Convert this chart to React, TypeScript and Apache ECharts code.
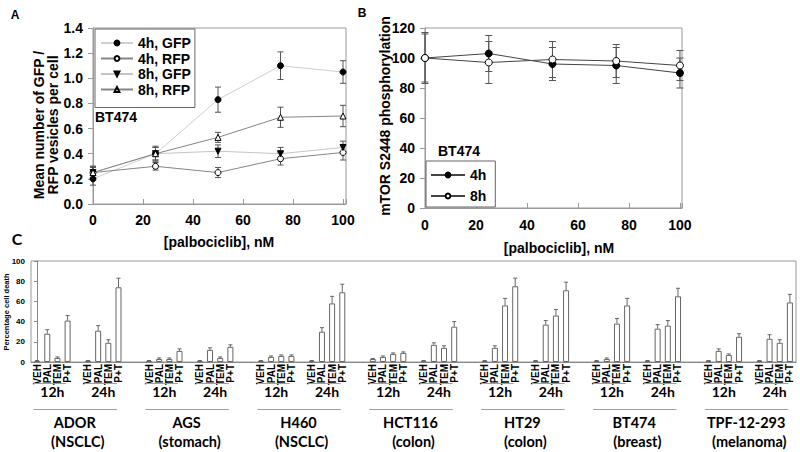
import React, { useEffect, useRef } from "react";
import * as echarts from "echarts";

// ---------- Panel A ----------
const doseA = [0, 25, 50, 75, 100];
const gfp4h = [0.2, 0.4, 0.83, 1.1, 1.05];
const gfp4hErr = [0.05, 0.05, 0.1, 0.11, 0.09];
const rfp4h = [0.25, 0.3, 0.25, 0.36, 0.41];
const rfp4hErr = [0.05, 0.03, 0.04, 0.05, 0.06];
const gfp8h = [0.25, 0.4, 0.42, 0.4, 0.45];
const gfp8hErr = [0.05, 0.06, 0.05, 0.05, 0.05];
const rfp8h = [0.25, 0.4, 0.53, 0.69, 0.7];
const rfp8hErr = [0.04, 0.05, 0.04, 0.08, 0.085];

// ---------- Panel B ----------
const doseB = [0, 25, 50, 75, 100];
const mtor4h = [100, 103, 96, 95, 90];
const mtor4hErr = [16, 12, 11, 12, 10];
const mtor8h = [100, 97, 99, 98, 95];
const mtor8hErr = [17, 14, 12, 11, 10];

// ---------- Panel C ----------
const cellLines = ["ADOR", "AGS", "H460", "HCT116", "HT29", "BT474", "TPF-12-293"];
const tissues = ["(NSCLC)", "(stomach)", "(NSCLC)", "(colon)", "(colon)", "(breast)", "(melanoma)"];
const treatments = ["VEH", "PAL", "TEM", "P+T"];
const timepoints = ["12h", "24h"];
// order: 12h VEH, PAL, TEM, P+T, 24h VEH, PAL, TEM, P+T
const deathADOR = [1, 28, 4, 41, 1, 31, 19, 74];
const errADOR = [0.5, 4, 1, 5, 0.5, 5, 3, 9];
const deathAGS = [1, 3, 3, 11, 1, 12, 4, 15];
const errAGS = [0.5, 1, 1, 2, 0.5, 2, 1, 2];
const deathH460 = [1, 5, 6, 6, 1, 30, 58, 69];
const errH460 = [0.5, 1, 1, 1, 0.5, 4, 7, 8];
const deathHCT116 = [3, 5, 8, 9, 1, 17, 14, 35];
const errHCT116 = [0.5, 1, 1, 1, 0.5, 2, 2, 5];
const deathHT29 = [1, 14, 56, 75, 1, 37, 46, 71];
const errHT29 = [0.5, 2, 7, 8, 0.5, 4, 6, 8];
const deathBT474 = [1, 3, 38, 56, 1, 33, 36, 65];
const errBT474 = [0.5, 1, 5, 7, 0.5, 4, 5, 8];
const deathTPF = [1, 11, 7, 25, 1, 23, 19, 59];
const errTPF = [0.5, 2, 1, 3, 0.5, 4, 3, 8];

const deathAll = [deathADOR, deathAGS, deathH460, deathHCT116, deathHT29, deathBT474, deathTPF];
const errAll = [errADOR, errAGS, errH460, errHCT116, errHT29, errBT474, errTPF];

const AR = "'Liberation Sans', Arial, Helvetica, sans-serif";
const CAL = "Lato, 'Open Sans', sans-serif";

const slotPerLine = 11;
const slotOf = (k: number) => (k < 4 ? k : k + 1);

function errRender(capW: number, both: boolean, color: string) {
  return (_params: any, api: any) => {
    const x = api.value(0);
    const y = api.value(1);
    const e = api.value(2);
    const hi = api.coord([x, y + e]);
    const lo = api.coord([x, both ? y - e : y]);
    const style = { stroke: color, lineWidth: 1, fill: "none" };
    const children: any[] = [
      { type: "line", shape: { x1: hi[0], y1: hi[1], x2: lo[0], y2: lo[1] }, style },
      { type: "line", shape: { x1: hi[0] - capW / 2, y1: hi[1], x2: hi[0] + capW / 2, y2: hi[1] }, style },
    ];
    if (both) {
      children.push({ type: "line", shape: { x1: lo[0] - capW / 2, y1: lo[1], x2: lo[0] + capW / 2, y2: lo[1] }, style });
    }
    return { type: "group", children };
  };
}

function txt(text: string, x: number, y: number, font: string, align = "center", rotation = 0, extra: any = {}) {
  return {
    type: "text",
    x,
    y,
    rotation,
    silent: true,
    style: {
      text,
      font,
      fill: "#000",
      align,
      verticalAlign: "middle",
      textAlign: align,
      textVerticalAlign: "middle",
      ...extra,
    },
  };
}

function buildOption() {
  const errA: number[][] = [];
  [
    [gfp4h, gfp4hErr],
    [rfp4h, rfp4hErr],
    [gfp8h, gfp8hErr],
    [rfp8h, rfp8hErr],
  ].forEach(([v, e]) => doseA.forEach((d, i) => errA.push([d, v[i], e[i]])));

  const errB: number[][] = [];
  [
    [mtor4h, mtor4hErr],
    [mtor8h, mtor8hErr],
  ].forEach(([v, e]) => doseB.forEach((d, i) => errB.push([d, v[i], e[i]])));

  const bars: number[][] = [];
  const errC: number[][] = [];
  const treatLabels: number[][] = [];
  const groups: number[][] = [];
  deathAll.forEach((vals, li) => {
    groups.push([li * slotPerLine, li]);
    vals.forEach((v, k) => {
      const x = li * slotPerLine + slotOf(k);
      bars.push([x, v]);
      errC.push([x, v, errAll[li][k]]);
      treatLabels.push([x, k % 4]);
    });
  });

  const axisGray = "#999";
  const tickLabel = { fontFamily: AR, fontWeight: "bold", fontSize: 14, color: "#000" };

  const lineBase = (name: string, data: number[], idx: number, symbol: string, filled: boolean, lineColor: string, rotate = 0, size = 6) => ({
    name,
    type: "line",
    xAxisIndex: idx,
    yAxisIndex: idx,
    data: (idx === 0 ? doseA : doseB).map((d, i) => [d, data[i]]),
    symbol,
    symbolSize: size,
    symbolRotate: rotate,
    showSymbol: true,
    lineStyle: { color: lineColor, width: 1 },
    itemStyle: filled
      ? { color: "#000", borderColor: "#000", borderWidth: 1 }
      : { color: "#fff", borderColor: "#000", borderWidth: 1 },
    z: 5,
    silent: true,
  });

  const legendText = { fontFamily: AR, fontWeight: "bold", fontSize: 14, color: "#000", lineHeight: 13 };

  return {
    animation: false,
    backgroundColor: "#fff",
    grid: [
      { left: 93, top: 28, width: 253, height: 176, show: true, borderColor: axisGray, borderWidth: 1 },
      { left: 425, top: 28, width: 257, height: 180, show: true, borderColor: axisGray, borderWidth: 1 },
      { left: 31, top: 261, width: 765, height: 101, show: true, borderColor: axisGray, borderWidth: 1 },
    ],
    xAxis: [
      {
        type: "value",
        gridIndex: 0,
        min: 0,
        max: 101.2,
        interval: 20,
        axisLine: { show: true, lineStyle: { color: axisGray } },
        axisTick: { show: true, inside: true, length: 5, lineStyle: { color: axisGray } },
        axisLabel: { ...tickLabel, margin: 9, formatter: (v: number) => (v % 20 === 0 ? String(v) : "") },
        splitLine: { show: false },
      },
      {
        type: "value",
        gridIndex: 1,
        min: 0,
        max: 100.8,
        interval: 20,
        axisLine: { show: true, lineStyle: { color: axisGray } },
        axisTick: { show: true, inside: true, length: 5, lineStyle: { color: axisGray } },
        axisLabel: { ...tickLabel, margin: 10, formatter: (v: number) => (v % 20 === 0 ? String(v) : "") },
        splitLine: { show: false },
      },
      {
        type: "value",
        gridIndex: 2,
        min: -0.6,
        max: 74.6,
        axisLine: { show: true, lineStyle: { color: "#888" } },
        axisTick: { show: false },
        axisLabel: { show: false },
        splitLine: { show: false },
      },
    ],
    yAxis: [
      {
        type: "value",
        gridIndex: 0,
        min: 0,
        max: 1.4,
        interval: 0.2,
        axisLine: { show: true, lineStyle: { color: axisGray } },
        axisTick: { show: true, length: 5, lineStyle: { color: axisGray } },
        axisLabel: { ...tickLabel, margin: 10, formatter: (v: number) => v.toFixed(1) },
        splitLine: { show: false },
      },
      {
        type: "value",
        gridIndex: 1,
        min: 0,
        max: 120,
        interval: 20,
        axisLine: { show: true, lineStyle: { color: axisGray } },
        axisTick: { show: true, length: 5, lineStyle: { color: axisGray } },
        axisLabel: { ...tickLabel, margin: 10 },
        splitLine: { show: false },
      },
      {
        type: "value",
        gridIndex: 2,
        min: 0,
        max: 100,
        interval: 20,
        axisLine: { show: true, lineStyle: { color: "#888" } },
        axisTick: { show: true, length: 3, lineStyle: { color: "#888" } },
        axisLabel: { fontFamily: AR, fontWeight: "bold", fontSize: 8, color: "#000", margin: 6 },
        splitLine: { show: false },
      },
    ],
    legend: [
      {
        data: ["4h, GFP", "4h, RFP", "8h, GFP", "8h, RFP"],
        orient: "vertical",
        left: 95,
        top: 29,
        padding: [7, 4, 11, 5],
        itemGap: 1.5,
        itemWidth: 32,
        itemHeight: 6,
        borderColor: "#666",
        borderWidth: 1,
        backgroundColor: "#fff",
        selectedMode: false,
        textStyle: legendText,
      },
      {
        data: ["4h", "8h"],
        orient: "vertical",
        left: 426,
        top: 161,
        padding: [7, 9, 4, 4],
        itemGap: 7,
        itemWidth: 34,
        itemHeight: 6,
        borderColor: "#666",
        borderWidth: 1,
        backgroundColor: "#fff",
        selectedMode: false,
        textStyle: legendText,
      },
    ],
    series: [
      {
        type: "custom",
        name: "errA",
        xAxisIndex: 0,
        yAxisIndex: 0,
        data: errA,
        encode: { x: 0, y: 1 },
        renderItem: errRender(6, true, "#555"),
        z: 3,
        silent: true,
      },
      lineBase("4h, GFP", gfp4h, 0, "circle", true, "#cfcfcf"),
      lineBase("4h, RFP", rfp4h, 0, "circle", false, "#858585"),
      lineBase("8h, GFP", gfp8h, 0, "triangle", true, "#c4c4c4", 180),
      lineBase("8h, RFP", rfp8h, 0, "triangle", false, "#858585"),
      {
        type: "custom",
        name: "errB",
        xAxisIndex: 1,
        yAxisIndex: 1,
        data: errB,
        encode: { x: 0, y: 1 },
        renderItem: errRender(7, true, "#555"),
        z: 3,
        silent: true,
      },
      lineBase("4h", mtor4h, 1, "circle", true, "#444", 0, 7),
      lineBase("8h", mtor8h, 1, "circle", false, "#444", 0, 7),
      {
        type: "bar",
        name: "death",
        xAxisIndex: 2,
        yAxisIndex: 2,
        data: bars,
        barWidth: 6,
        itemStyle: { color: "#fff", borderColor: "#666", borderWidth: 1 },
        silent: true,
        z: 2,
      },
      {
        type: "custom",
        name: "errC",
        xAxisIndex: 2,
        yAxisIndex: 2,
        data: errC,
        encode: { x: 0, y: 1 },
        renderItem: errRender(4, false, "#666"),
        z: 3,
        silent: true,
      },
      {
        type: "custom",
        name: "treatLabels",
        xAxisIndex: 2,
        yAxisIndex: 2,
        data: treatLabels,
        encode: { x: 0, y: 1 },
        clip: false,
        silent: true,
        renderItem: (_p: any, api: any) => {
          const pt = api.coord([api.value(0), 0]);
          return txt(treatments[api.value(1)], pt[0], pt[1] + 2, `bold 10px ${AR}`, "right", Math.PI / 2);
        },
      },
      {
        type: "custom",
        name: "groupLabels",
        xAxisIndex: 2,
        yAxisIndex: 2,
        data: groups,
        encode: { x: 0, y: 1 },
        clip: false,
        silent: true,
        renderItem: (_p: any, api: any) => {
          const x0 = api.value(0);
          const li = api.value(1);
          const base = api.coord([x0, 0])[1];
          const px = (u: number) => api.coord([x0 + u, 0])[0];
          const lineStyle = { stroke: "#a0a0a0", lineWidth: 1 };
          const children: any[] = [];
          timepoints.forEach((t, ti) => {
            const o = ti * 5;
            children.push({
              type: "line",
              shape: { x1: px(o - 0.35), y1: base + 21.5, x2: px(o + 2.85), y2: base + 21.5 },
              style: lineStyle,
            });
            children.push(txt(t, px(o + 1.5), base + 29, `bold 14px ${CAL}`));
          });
          children.push({
            type: "line",
            shape: { x1: px(-0.35), y1: base + 47.5, x2: px(7.85), y2: base + 47.5 },
            style: lineStyle,
          });
          children.push(txt(cellLines[li], px(3.7), base + 60, `bold 14.5px ${CAL}`));
          children.push(txt(tissues[li], px(4), base + 79, `bold 14.5px ${CAL}`));
          return { type: "group", children };
        },
      },
    ],
    graphic: [
      txt("A", 15, 15, `bold 12px ${AR}`),
      txt("B", 362, 13, `bold 12px ${AR}`),
      txt("C", 17, 238, `bold 16px ${CAL}`),
      txt("BT474", 95, 117, `bold 14px ${AR}`, "left"),
      txt("BT474", 438, 151, `bold 14px ${AR}`, "left"),
      txt("Mean number of GFP /\nRFP vesicles per cell", 46, 125, `bold 14px ${AR}`, "center", Math.PI / 2, { lineHeight: 14 }),
      txt("[palbociclib], nM", 219, 242, `bold 14px ${AR}`),
      txt("mTOR S2448 phosphorylation", 385, 116, `bold 14px ${AR}`, "center", Math.PI / 2),
      txt("[palbociclib], nM", 559, 248, `bold 14px ${AR}`),
      txt("Percentage cell death", 6, 312, `bold 7.5px ${AR}`, "center", Math.PI / 2),
    ],
  };
}

export default function App() {
  const ref = useRef<HTMLDivElement>(null);
  useEffect(() => {
    if (!ref.current) return;
    const chart = echarts.init(ref.current, null, { renderer: "svg", width: 800, height: 452 });
    chart.setOption(buildOption() as any);
    return () => chart.dispose();
  }, []);
  return (
    <div
      ref={ref}
      style={{ position: "fixed", left: 0, top: 0, width: 800, height: 452, background: "#fff" }}
    />
  );
}
